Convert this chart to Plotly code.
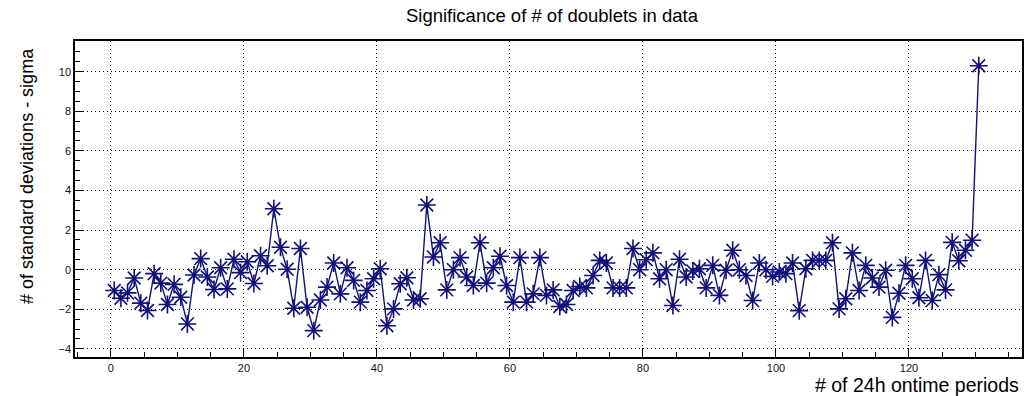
import plotly.graph_objects as go

# period index (bin centres of 24h ontime periods)
periods = [i + 0.5 for i in range(131)]

sigma = [
    -1.05, -1.44, -1.17, -0.42, -1.69, -2.06, -0.20, -0.68, -1.76, -0.74,
    -1.39, -2.74, -0.27, 0.56, -0.37, -1.00, 0.10, -0.97, 0.53, -0.15,
    0.40, -0.70, 0.70, 0.20, 3.08, 1.13, 0.02, -1.95, 1.07, -1.90,
    -3.08, -1.53, -0.88, 0.34, -1.22, 0.10, -0.54, -1.64, -1.05, -0.46,
    0.05, -2.83, -1.98, -0.71, -0.41, -1.53, -1.47, 3.27, 0.64, 1.36,
    -1.02, 0.00, 0.61, -0.37, -0.80, 1.36, -0.68, 0.10, 0.68, -0.80,
    -1.64, 0.61, -1.64, -1.22, 0.61, -1.30, -1.02, -1.86, -1.76, -1.05,
    -0.85, -0.92, -0.29, 0.47, 0.34, -0.92, -0.92, -0.92, 1.07, 0.00,
    0.50, 0.85, -0.46, 0.00, -1.81, 0.53, -0.37, -0.07, 0.05, -0.92,
    0.22, -1.30, -0.03, 0.98, 0.00, -0.29, -1.56, 0.34, 0.00, -0.34,
    -0.12, -0.20, 0.34, -2.07, 0.05, 0.47, 0.47, 0.47, 1.36, -1.98,
    -1.47, 0.85, -1.05, 0.22, -0.42, -0.88, -0.03, -2.41, -1.19, 0.22,
    -0.46, -1.42, 0.47, -1.56, -0.25, -1.02, 1.38, 0.45, 0.98, 1.49,
    10.30,
]

y_ticks = [-4, -2, 0, 2, 4, 6, 8, 10]
x_ticks = [0, 20, 40, 60, 80, 100, 120]

title_text = "Significance of # of doublets in data"
x_title = "# of 24h ontime periods"
y_title = "# of standard deviations - sigma"

navy = "#10107c"
font_family = "Liberation Sans, Arial, Helvetica, sans-serif"

fig = go.Figure()
fig.add_trace(go.Scatter(
    x=periods, y=sigma, mode="lines+markers",
    line=dict(color=navy, width=1.4),
    marker=dict(symbol="asterisk-open", size=15, color=navy,
                line=dict(color=navy, width=1.6)),
    showlegend=False,
))

axis_common = dict(
    showline=True, linecolor="black", linewidth=1.5, mirror=True,
    ticks="inside", tickcolor="black", tickwidth=1,
    showgrid=True, gridcolor="black", griddash="1px,3px", gridwidth=1,
    zeroline=False,
    tickfont=dict(family=font_family, size=11, color="#111"),
)

fig.update_xaxes(
    range=[-5.4, 137.0], tickmode="array", tickvals=x_ticks,
    ticktext=[str(v) for v in x_ticks], ticklen=9,
    minor=dict(dtick=5, tick0=0, ticks="inside", ticklen=5,
               tickcolor="black", showgrid=False),
    **axis_common,
)
fig.update_yaxes(
    range=[-4.41, 11.55], tickmode="array", tickvals=y_ticks,
    ticktext=[str(v) if v >= 0 else "\u2212" + str(-v) for v in y_ticks],
    ticklen=9,
    minor=dict(dtick=0.5, tick0=0, ticks="inside", ticklen=5,
               tickcolor="black", showgrid=False),
    **axis_common,
)

fig.update_layout(
    width=1035, height=396,
    margin=dict(l=75, r=13, t=41, b=39),
    paper_bgcolor="white", plot_bgcolor="white",
    font=dict(family=font_family, color="black"),
    title=dict(text=title_text, x=552 / 1035, xref="container", xanchor="center",
               y=1 - 16 / 396, yref="container", yanchor="middle",
               font=dict(size=18.5, family=font_family, color="black")),
    annotations=[
        dict(text=x_title, xref="paper", yref="paper",
             x=(1021 - 75) / 947, y=(357 - 385) / 316,
             xanchor="right", yanchor="middle", showarrow=False,
             font=dict(size=19.5, family=font_family, color="black")),
        dict(text=y_title, xref="paper", yref="paper", textangle=-90,
             x=(27 - 75) / 947, y=(357 - 176) / 316,
             xanchor="center", yanchor="middle", showarrow=False,
             font=dict(size=18, family=font_family, color="black")),
    ],
)

fig.write_html("out.html")
